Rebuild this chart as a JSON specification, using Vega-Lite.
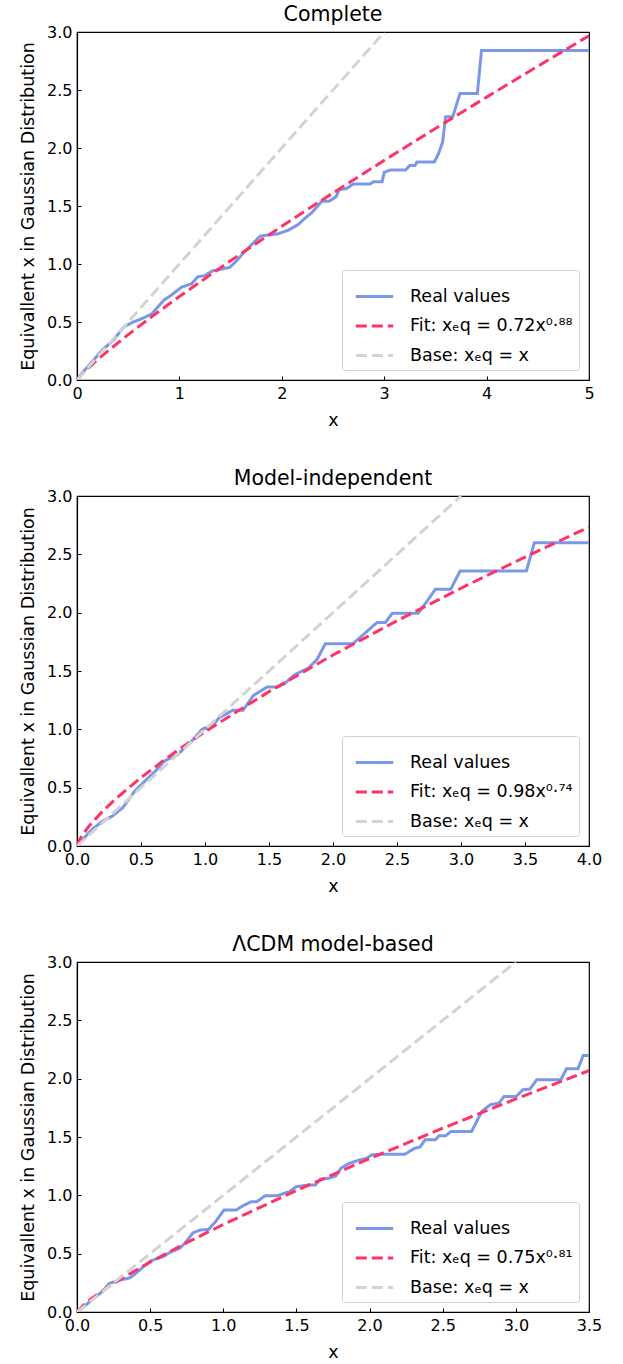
{
  "$schema": "https://vega.github.io/schema/vega-lite/v6.json",
  "background": "white",
  "padding": {"left": 18, "top": 4, "right": 5, "bottom": 2},
  "bounds": "flush",
  "spacing": 116,
  "config": {
    "font": "DejaVu Sans",
    "view": {"stroke": "black", "strokeWidth": 1.2},
    "axis": {
      "grid": false,
      "domainColor": "black",
      "domainWidth": 1.2,
      "tickColor": "black",
      "tickSize": -4,
      "tickWidth": 1,
      "labelFont": "DejaVu Sans",
      "labelFontSize": 16,
      "labelColor": "black",
      "labelFlush": false,
      "labelOverlap": false,
      "titleFont": "DejaVu Sans",
      "titleFontSize": 17.5,
      "titleFontWeight": "normal",
      "titleColor": "black",
      "labelPadding": 9
    },
    "axisX": {"titlePadding": 10},
    "axisY": {"titlePadding": 9},
    "title": {"font": "DejaVu Sans", "fontSize": 20.5, "fontWeight": "normal", "color": "black", "offset": -1.5, "frame": "group", "anchor": "middle"},
    "legend": {
      "orient": "bottom-right",
      "offset": 10,
      "fillColor": "white",
      "strokeColor": "#d0d0d0",
      "cornerRadius": 3,
      "padding": 6,
      "symbolType": "stroke",
      "symbolSize": 1400,
      "symbolStrokeWidth": 3,
      "symbolOffset": 6,
      "labelFont": "DejaVu Sans",
      "labelFontSize": 17.5,
      "labelColor": "black",
      "labelOffset": 15,
      "labelLimit": 300,
      "rowPadding": 0.5
    }
  },
  "datasets": {
    "p1": [
      {"x": 0, "y": 0, "series": "Real values"},
      {"x": 0.06, "y": 0.07, "series": "Real values"},
      {"x": 0.12, "y": 0.13, "series": "Real values"},
      {"x": 0.18, "y": 0.19, "series": "Real values"},
      {"x": 0.245, "y": 0.258, "series": "Real values"},
      {"x": 0.3, "y": 0.3, "series": "Real values"},
      {"x": 0.36, "y": 0.35, "series": "Real values"},
      {"x": 0.46, "y": 0.46, "series": "Real values"},
      {"x": 0.55, "y": 0.5, "series": "Real values"},
      {"x": 0.61, "y": 0.52, "series": "Real values"},
      {"x": 0.66, "y": 0.54, "series": "Real values"},
      {"x": 0.73, "y": 0.57, "series": "Real values"},
      {"x": 0.78, "y": 0.62, "series": "Real values"},
      {"x": 0.85, "y": 0.69, "series": "Real values"},
      {"x": 0.92, "y": 0.73, "series": "Real values"},
      {"x": 1.02, "y": 0.8, "series": "Real values"},
      {"x": 1.12, "y": 0.83, "series": "Real values"},
      {"x": 1.18, "y": 0.89, "series": "Real values"},
      {"x": 1.25, "y": 0.9, "series": "Real values"},
      {"x": 1.32, "y": 0.94, "series": "Real values"},
      {"x": 1.49, "y": 0.97, "series": "Real values"},
      {"x": 1.55, "y": 1.02, "series": "Real values"},
      {"x": 1.62, "y": 1.09, "series": "Real values"},
      {"x": 1.72, "y": 1.18, "series": "Real values"},
      {"x": 1.79, "y": 1.24, "series": "Real values"},
      {"x": 1.86, "y": 1.25, "series": "Real values"},
      {"x": 1.96, "y": 1.26, "series": "Real values"},
      {"x": 2.06, "y": 1.29, "series": "Real values"},
      {"x": 2.16, "y": 1.34, "series": "Real values"},
      {"x": 2.22, "y": 1.39, "series": "Real values"},
      {"x": 2.29, "y": 1.44, "series": "Real values"},
      {"x": 2.36, "y": 1.51, "series": "Real values"},
      {"x": 2.39, "y": 1.54, "series": "Real values"},
      {"x": 2.46, "y": 1.54, "series": "Real values"},
      {"x": 2.53, "y": 1.58, "series": "Real values"},
      {"x": 2.56, "y": 1.64, "series": "Real values"},
      {"x": 2.63, "y": 1.65, "series": "Real values"},
      {"x": 2.7, "y": 1.69, "series": "Real values"},
      {"x": 2.86, "y": 1.69, "series": "Real values"},
      {"x": 2.9, "y": 1.71, "series": "Real values"},
      {"x": 2.98, "y": 1.71, "series": "Real values"},
      {"x": 3.0, "y": 1.79, "series": "Real values"},
      {"x": 3.06, "y": 1.81, "series": "Real values"},
      {"x": 3.21, "y": 1.81, "series": "Real values"},
      {"x": 3.25, "y": 1.85, "series": "Real values"},
      {"x": 3.3, "y": 1.85, "series": "Real values"},
      {"x": 3.32, "y": 1.88, "series": "Real values"},
      {"x": 3.49, "y": 1.88, "series": "Real values"},
      {"x": 3.53, "y": 1.95, "series": "Real values"},
      {"x": 3.57, "y": 2.05, "series": "Real values"},
      {"x": 3.6, "y": 2.27, "series": "Real values"},
      {"x": 3.67, "y": 2.27, "series": "Real values"},
      {"x": 3.74, "y": 2.47, "series": "Real values"},
      {"x": 3.91, "y": 2.47, "series": "Real values"},
      {"x": 3.95, "y": 2.84, "series": "Real values"},
      {"x": 5.0, "y": 2.84, "series": "Real values"},
      {"x": 0, "y": 0, "series": "Fit: xₑq = 0.72x⁰·⁸⁸"},
      {"x": 0.05, "y": 0.0516, "series": "Fit: xₑq = 0.72x⁰·⁸⁸"},
      {"x": 0.1, "y": 0.0949, "series": "Fit: xₑq = 0.72x⁰·⁸⁸"},
      {"x": 0.2, "y": 0.1747, "series": "Fit: xₑq = 0.72x⁰·⁸⁸"},
      {"x": 0.3, "y": 0.2496, "series": "Fit: xₑq = 0.72x⁰·⁸⁸"},
      {"x": 0.5, "y": 0.3913, "series": "Fit: xₑq = 0.72x⁰·⁸⁸"},
      {"x": 0.75, "y": 0.559, "series": "Fit: xₑq = 0.72x⁰·⁸⁸"},
      {"x": 1, "y": 0.72, "series": "Fit: xₑq = 0.72x⁰·⁸⁸"},
      {"x": 1.5, "y": 1.0288, "series": "Fit: xₑq = 0.72x⁰·⁸⁸"},
      {"x": 2, "y": 1.3251, "series": "Fit: xₑq = 0.72x⁰·⁸⁸"},
      {"x": 2.5, "y": 1.6126, "series": "Fit: xₑq = 0.72x⁰·⁸⁸"},
      {"x": 3, "y": 1.8932, "series": "Fit: xₑq = 0.72x⁰·⁸⁸"},
      {"x": 3.5, "y": 2.1683, "series": "Fit: xₑq = 0.72x⁰·⁸⁸"},
      {"x": 4, "y": 2.4385, "series": "Fit: xₑq = 0.72x⁰·⁸⁸"},
      {"x": 4.5, "y": 2.705, "series": "Fit: xₑq = 0.72x⁰·⁸⁸"},
      {"x": 5, "y": 2.968, "series": "Fit: xₑq = 0.72x⁰·⁸⁸"},
      {"x": 0, "y": 0, "series": "Base: xₑq = x"},
      {"x": 3, "y": 3, "series": "Base: xₑq = x"}
    ],
    "p2": [
      {"x": 0, "y": 0, "series": "Real values"},
      {"x": 0.115, "y": 0.14, "series": "Real values"},
      {"x": 0.196, "y": 0.21, "series": "Real values"},
      {"x": 0.277, "y": 0.257, "series": "Real values"},
      {"x": 0.357, "y": 0.328, "series": "Real values"},
      {"x": 0.451, "y": 0.47, "series": "Real values"},
      {"x": 0.53, "y": 0.556, "series": "Real values"},
      {"x": 0.625, "y": 0.656, "series": "Real values"},
      {"x": 0.68, "y": 0.727, "series": "Real values"},
      {"x": 0.787, "y": 0.784, "series": "Real values"},
      {"x": 0.894, "y": 0.898, "series": "Real values"},
      {"x": 0.975, "y": 0.998, "series": "Real values"},
      {"x": 1.0, "y": 1.012, "series": "Real values"},
      {"x": 1.03, "y": 0.998, "series": "Real values"},
      {"x": 1.11, "y": 1.098, "series": "Real values"},
      {"x": 1.216, "y": 1.163, "series": "Real values"},
      {"x": 1.297, "y": 1.163, "series": "Real values"},
      {"x": 1.377, "y": 1.289, "series": "Real values"},
      {"x": 1.485, "y": 1.363, "series": "Real values"},
      {"x": 1.565, "y": 1.363, "series": "Real values"},
      {"x": 1.62, "y": 1.39, "series": "Real values"},
      {"x": 1.7, "y": 1.468, "series": "Real values"},
      {"x": 1.807, "y": 1.525, "series": "Real values"},
      {"x": 1.874, "y": 1.597, "series": "Real values"},
      {"x": 1.94, "y": 1.734, "series": "Real values"},
      {"x": 2.156, "y": 1.734, "series": "Real values"},
      {"x": 2.236, "y": 1.811, "series": "Real values"},
      {"x": 2.344, "y": 1.916, "series": "Real values"},
      {"x": 2.41, "y": 1.916, "series": "Real values"},
      {"x": 2.464, "y": 1.996, "series": "Real values"},
      {"x": 2.666, "y": 1.996, "series": "Real values"},
      {"x": 2.733, "y": 2.096, "series": "Real values"},
      {"x": 2.8, "y": 2.201, "series": "Real values"},
      {"x": 2.92, "y": 2.201, "series": "Real values"},
      {"x": 2.993, "y": 2.358, "series": "Real values"},
      {"x": 3.511, "y": 2.358, "series": "Real values"},
      {"x": 3.573, "y": 2.6, "series": "Real values"},
      {"x": 4.0, "y": 2.6, "series": "Real values"},
      {"x": 0, "y": 0, "series": "Fit: xₑq = 0.98x⁰·⁷⁴"},
      {"x": 0.02, "y": 0.0542, "series": "Fit: xₑq = 0.98x⁰·⁷⁴"},
      {"x": 0.05, "y": 0.1068, "series": "Fit: xₑq = 0.98x⁰·⁷⁴"},
      {"x": 0.1, "y": 0.1783, "series": "Fit: xₑq = 0.98x⁰·⁷⁴"},
      {"x": 0.2, "y": 0.2978, "series": "Fit: xₑq = 0.98x⁰·⁷⁴"},
      {"x": 0.3, "y": 0.4021, "series": "Fit: xₑq = 0.98x⁰·⁷⁴"},
      {"x": 0.5, "y": 0.5868, "series": "Fit: xₑq = 0.98x⁰·⁷⁴"},
      {"x": 0.75, "y": 0.792, "series": "Fit: xₑq = 0.98x⁰·⁷⁴"},
      {"x": 1, "y": 0.98, "series": "Fit: xₑq = 0.98x⁰·⁷⁴"},
      {"x": 1.5, "y": 1.3229, "series": "Fit: xₑq = 0.98x⁰·⁷⁴"},
      {"x": 2, "y": 1.6367, "series": "Fit: xₑq = 0.98x⁰·⁷⁴"},
      {"x": 2.5, "y": 1.9307, "series": "Fit: xₑq = 0.98x⁰·⁷⁴"},
      {"x": 3, "y": 2.2096, "series": "Fit: xₑq = 0.98x⁰·⁷⁴"},
      {"x": 3.5, "y": 2.4766, "series": "Fit: xₑq = 0.98x⁰·⁷⁴"},
      {"x": 4, "y": 2.7338, "series": "Fit: xₑq = 0.98x⁰·⁷⁴"},
      {"x": 0, "y": 0, "series": "Base: xₑq = x"},
      {"x": 3, "y": 3, "series": "Base: xₑq = x"}
    ],
    "p3": [
      {"x": 0, "y": 0, "series": "Real values"},
      {"x": 0.1, "y": 0.1, "series": "Real values"},
      {"x": 0.183, "y": 0.186, "series": "Real values"},
      {"x": 0.218, "y": 0.244, "series": "Real values"},
      {"x": 0.289, "y": 0.272, "series": "Real values"},
      {"x": 0.36, "y": 0.292, "series": "Real values"},
      {"x": 0.395, "y": 0.324, "series": "Real values"},
      {"x": 0.453, "y": 0.387, "series": "Real values"},
      {"x": 0.505, "y": 0.438, "series": "Real values"},
      {"x": 0.594, "y": 0.478, "series": "Real values"},
      {"x": 0.641, "y": 0.516, "series": "Real values"},
      {"x": 0.7, "y": 0.544, "series": "Real values"},
      {"x": 0.735, "y": 0.587, "series": "Real values"},
      {"x": 0.794, "y": 0.679, "series": "Real values"},
      {"x": 0.841, "y": 0.702, "series": "Real values"},
      {"x": 0.9, "y": 0.708, "series": "Real values"},
      {"x": 0.947, "y": 0.774, "series": "Real values"},
      {"x": 1.005, "y": 0.874, "series": "Real values"},
      {"x": 1.088, "y": 0.874, "series": "Real values"},
      {"x": 1.135, "y": 0.911, "series": "Real values"},
      {"x": 1.193, "y": 0.946, "series": "Real values"},
      {"x": 1.229, "y": 0.946, "series": "Real values"},
      {"x": 1.287, "y": 0.997, "series": "Real values"},
      {"x": 1.37, "y": 0.997, "series": "Real values"},
      {"x": 1.416, "y": 1.017, "series": "Real values"},
      {"x": 1.452, "y": 1.032, "series": "Real values"},
      {"x": 1.499, "y": 1.074, "series": "Real values"},
      {"x": 1.581, "y": 1.089, "series": "Real values"},
      {"x": 1.628, "y": 1.089, "series": "Real values"},
      {"x": 1.663, "y": 1.138, "series": "Real values"},
      {"x": 1.722, "y": 1.146, "series": "Real values"},
      {"x": 1.769, "y": 1.166, "series": "Real values"},
      {"x": 1.804, "y": 1.232, "series": "Real values"},
      {"x": 1.863, "y": 1.275, "series": "Real values"},
      {"x": 1.933, "y": 1.304, "series": "Real values"},
      {"x": 1.98, "y": 1.318, "series": "Real values"},
      {"x": 2.015, "y": 1.347, "series": "Real values"},
      {"x": 2.074, "y": 1.352, "series": "Real values"},
      {"x": 2.239, "y": 1.352, "series": "Real values"},
      {"x": 2.31, "y": 1.404, "series": "Real values"},
      {"x": 2.344, "y": 1.413, "series": "Real values"},
      {"x": 2.38, "y": 1.476, "series": "Real values"},
      {"x": 2.45, "y": 1.476, "series": "Real values"},
      {"x": 2.474, "y": 1.51, "series": "Real values"},
      {"x": 2.52, "y": 1.51, "series": "Real values"},
      {"x": 2.556, "y": 1.547, "series": "Real values"},
      {"x": 2.697, "y": 1.547, "series": "Real values"},
      {"x": 2.767, "y": 1.719, "series": "Real values"},
      {"x": 2.826, "y": 1.777, "series": "Real values"},
      {"x": 2.885, "y": 1.791, "series": "Real values"},
      {"x": 2.92, "y": 1.848, "series": "Real values"},
      {"x": 3.002, "y": 1.848, "series": "Real values"},
      {"x": 3.049, "y": 1.905, "series": "Real values"},
      {"x": 3.096, "y": 1.911, "series": "Real values"},
      {"x": 3.143, "y": 1.991, "series": "Real values"},
      {"x": 3.307, "y": 1.991, "series": "Real values"},
      {"x": 3.347, "y": 2.086, "series": "Real values"},
      {"x": 3.425, "y": 2.086, "series": "Real values"},
      {"x": 3.46, "y": 2.198, "series": "Real values"},
      {"x": 3.5, "y": 2.198, "series": "Real values"},
      {"x": 0, "y": 0, "series": "Fit: xₑq = 0.75x⁰·⁸¹"},
      {"x": 0.05, "y": 0.0663, "series": "Fit: xₑq = 0.75x⁰·⁸¹"},
      {"x": 0.1, "y": 0.1162, "series": "Fit: xₑq = 0.75x⁰·⁸¹"},
      {"x": 0.2, "y": 0.2037, "series": "Fit: xₑq = 0.75x⁰·⁸¹"},
      {"x": 0.3, "y": 0.2828, "series": "Fit: xₑq = 0.75x⁰·⁸¹"},
      {"x": 0.5, "y": 0.4278, "series": "Fit: xₑq = 0.75x⁰·⁸¹"},
      {"x": 0.75, "y": 0.5941, "series": "Fit: xₑq = 0.75x⁰·⁸¹"},
      {"x": 1, "y": 0.75, "series": "Fit: xₑq = 0.75x⁰·⁸¹"},
      {"x": 1.5, "y": 1.0416, "series": "Fit: xₑq = 0.75x⁰·⁸¹"},
      {"x": 2, "y": 1.3148, "series": "Fit: xₑq = 0.75x⁰·⁸¹"},
      {"x": 2.5, "y": 1.5755, "series": "Fit: xₑq = 0.75x⁰·⁸¹"},
      {"x": 3, "y": 1.8262, "series": "Fit: xₑq = 0.75x⁰·⁸¹"},
      {"x": 3.5, "y": 2.0691, "series": "Fit: xₑq = 0.75x⁰·⁸¹"},
      {"x": 0, "y": 0, "series": "Base: xₑq = x"},
      {"x": 3, "y": 3, "series": "Base: xₑq = x"}
    ]
  },
  "resolve": {
    "scale": {"x": "independent", "y": "independent", "color": "independent", "strokeDash": "independent"},
    "legend": {"color": "independent", "strokeDash": "independent"}
  },
  "vconcat": [
    {
      "width": 512,
      "height": 348,
      "title": "Complete",
      "data": {"name": "p1"},
      "mark": {"type": "line", "strokeWidth": 3, "clip": true, "strokeCap": "butt"},
      "encoding": {
        "x": {"field": "x", "type": "quantitative", "scale": {"domain": [0, 5], "nice": false}, "axis": {"values": [0, 1, 2, 3, 4, 5], "format": ".0f", "title": "x"}},
        "y": {"field": "y", "type": "quantitative", "scale": {"domain": [0, 3], "nice": false}, "axis": {"values": [0, 0.5, 1, 1.5, 2, 2.5, 3], "format": ".1f", "title": "Equivallent x in Gaussian Distribution"}},
        "color": {"field": "series", "type": "nominal", "sort": null, "scale": {"domain": ["Real values", "Fit: xₑq = 0.72x⁰·⁸⁸", "Base: xₑq = x"], "range": ["#7b98e8", "#ff3366", "#d3d3d3"]}, "legend": {"title": null}},
        "strokeDash": {"field": "series", "type": "nominal", "sort": null, "scale": {"domain": ["Real values", "Fit: xₑq = 0.72x⁰·⁸⁸", "Base: xₑq = x"], "range": [[1, 0], [11, 5], [11, 5]]}, "legend": {"title": null}},
        "order": {"field": "x", "type": "quantitative"}
      }
    },
    {
      "width": 512,
      "height": 350,
      "title": "Model-independent",
      "data": {"name": "p2"},
      "mark": {"type": "line", "strokeWidth": 3, "clip": true, "strokeCap": "butt"},
      "encoding": {
        "x": {"field": "x", "type": "quantitative", "scale": {"domain": [0, 4], "nice": false}, "axis": {"values": [0, 0.5, 1, 1.5, 2, 2.5, 3, 3.5, 4], "format": ".1f", "title": "x"}},
        "y": {"field": "y", "type": "quantitative", "scale": {"domain": [0, 3], "nice": false}, "axis": {"values": [0, 0.5, 1, 1.5, 2, 2.5, 3], "format": ".1f", "title": "Equivallent x in Gaussian Distribution"}},
        "color": {"field": "series", "type": "nominal", "sort": null, "scale": {"domain": ["Real values", "Fit: xₑq = 0.98x⁰·⁷⁴", "Base: xₑq = x"], "range": ["#7b98e8", "#ff3366", "#d3d3d3"]}, "legend": {"title": null}},
        "strokeDash": {"field": "series", "type": "nominal", "sort": null, "scale": {"domain": ["Real values", "Fit: xₑq = 0.98x⁰·⁷⁴", "Base: xₑq = x"], "range": [[1, 0], [11, 5], [11, 5]]}, "legend": {"title": null}},
        "order": {"field": "x", "type": "quantitative"}
      }
    },
    {
      "width": 512,
      "height": 350,
      "title": "ΛCDM model-based",
      "data": {"name": "p3"},
      "mark": {"type": "line", "strokeWidth": 3, "clip": true, "strokeCap": "butt"},
      "encoding": {
        "x": {"field": "x", "type": "quantitative", "scale": {"domain": [0, 3.5], "nice": false}, "axis": {"values": [0, 0.5, 1, 1.5, 2, 2.5, 3, 3.5], "format": ".1f", "title": "x"}},
        "y": {"field": "y", "type": "quantitative", "scale": {"domain": [0, 3], "nice": false}, "axis": {"values": [0, 0.5, 1, 1.5, 2, 2.5, 3], "format": ".1f", "title": "Equivallent x in Gaussian Distribution"}},
        "color": {"field": "series", "type": "nominal", "sort": null, "scale": {"domain": ["Real values", "Fit: xₑq = 0.75x⁰·⁸¹", "Base: xₑq = x"], "range": ["#7b98e8", "#ff3366", "#d3d3d3"]}, "legend": {"title": null}},
        "strokeDash": {"field": "series", "type": "nominal", "sort": null, "scale": {"domain": ["Real values", "Fit: xₑq = 0.75x⁰·⁸¹", "Base: xₑq = x"], "range": [[1, 0], [11, 5], [11, 5]]}, "legend": {"title": null}},
        "order": {"field": "x", "type": "quantitative"}
      }
    }
  ]
}
